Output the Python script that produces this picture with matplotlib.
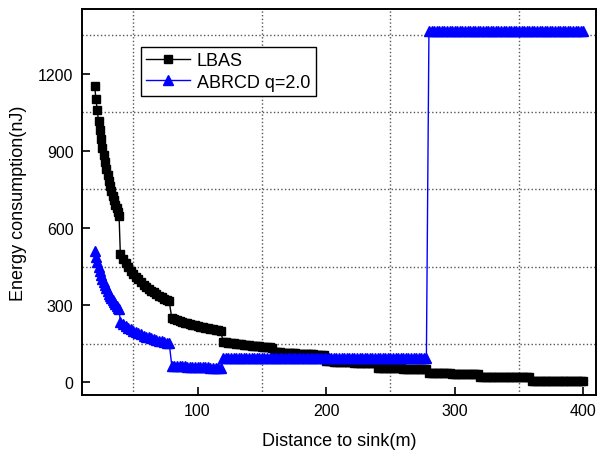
import matplotlib
matplotlib.use("Agg")
import matplotlib.pyplot as plt
from matplotlib.ticker import MultipleLocator

plt.rcParams['font.family'] = ['Liberation Sans', 'DejaVu Sans']

# distance to sink (m): 1 m steps in the first hop, 2 m steps after
distance = list(range(20, 40)) + list(range(40, 401, 2))

lbas = [
    # 20..39
    1153, 1103, 1058, 1017, 980, 945, 913, 884, 856, 831,
    807, 784, 763, 744, 725, 708, 691, 676, 661, 647,
    # 40..78
    497, 479, 463, 448, 434, 422, 410, 400, 390, 380,
    372, 364, 356, 349, 342, 336, 330, 325, 319, 314,
    # 80..118
    249, 245, 241, 238, 235, 232, 229, 226, 223, 221,
    218, 216, 213, 211, 209, 207, 205, 203, 201, 199,
    # 120..158
    157, 155, 154, 152, 151, 150, 148, 147, 146, 145,
    143, 142, 141, 140, 139, 138, 137, 136, 135, 134,
    # 160..198
    118, 117, 116, 115, 115, 114, 113, 113, 112, 111,
    111, 110, 109, 109, 108, 108, 107, 106, 106, 105,
    # 200..238
    82, 81, 81, 80, 80, 79, 79, 78, 78, 77,
    77, 76, 76, 75, 75, 75, 74, 74, 73, 73,
    # 240..278
    55, 55, 55, 54, 54, 54, 53, 53, 53, 53,
    52, 52, 52, 52, 51, 51, 51, 51, 50, 50,
    # 280..318
    35, 35, 35, 35, 34, 34, 34, 34, 34, 33,
    33, 33, 33, 33, 33, 32, 32, 32, 32, 32,
    # 320..358
    21, 21, 21, 21, 21, 21, 21, 20, 20, 20,
    20, 20, 20, 20, 19, 19, 19, 19, 19, 19,
    # 360..400
    6, 6, 6, 6, 6, 6, 6, 5, 5, 5,
    5, 5, 5, 5, 4, 4, 4, 4, 4, 4, 4,
]

abrcd = [
    # 20..39
    510, 488, 468, 449, 433, 417, 403, 390, 377, 366,
    355, 345, 336, 327, 319, 311, 304, 297, 290, 284,
    # 40..78
    234, 226, 219, 212, 206, 200, 195, 190, 186, 181,
    177, 174, 170, 167, 164, 161, 159, 156, 154, 151,
    # 80..118
    64, 63, 62, 62, 61, 61, 60, 60, 59, 59,
    58, 58, 57, 57, 57, 56, 56, 55, 55, 54,
    # 120..278
    92, 92, 92, 92, 92, 92, 92, 92, 92, 92,
    92, 92, 92, 92, 92, 92, 92, 92, 92, 92,
    92, 92, 92, 92, 92, 92, 92, 92, 92, 92,
    92, 92, 92, 92, 92, 92, 92, 92, 92, 92,
    92, 92, 92, 92, 92, 92, 92, 92, 92, 92,
    92, 92, 92, 92, 92, 92, 92, 92, 92, 92,
    92, 92, 92, 92, 92, 92, 92, 92, 92, 92,
    92, 92, 92, 92, 92, 92, 92, 92, 92, 92,
    # 280..400
    1368, 1368, 1368, 1368, 1368, 1368, 1368, 1368, 1368, 1368,
    1368, 1368, 1368, 1368, 1368, 1368, 1368, 1368, 1368, 1368,
    1368, 1368, 1368, 1368, 1368, 1368, 1368, 1368, 1368, 1368,
    1368, 1368, 1368, 1368, 1368, 1368, 1368, 1368, 1368, 1368,
    1368, 1368, 1368, 1368, 1368, 1368, 1368, 1368, 1368, 1368,
    1368, 1368, 1368, 1368, 1368, 1368, 1368, 1368, 1368, 1368,
    1368,
]

fig = plt.figure(figsize=(5.97, 4.52), dpi=100)
ax = fig.add_axes([0.137, 0.124, 0.8615, 0.854])

ax.plot(distance, lbas, 's-', color='black', lw=1, markersize=6, label='LBAS')
ax.plot(distance, abrcd, '^-', color='blue', lw=1, markersize=6.5, label='ABRCD q=2.0')

ax.set_xlim(10, 410)
ax.set_ylim(-50, 1453)
ax.xaxis.set_major_locator(MultipleLocator(100))
ax.xaxis.set_minor_locator(MultipleLocator(50))
ax.yaxis.set_major_locator(MultipleLocator(300))
ax.yaxis.set_minor_locator(MultipleLocator(150))
ax.tick_params(which='major', direction='in', length=6, width=1.2, labelsize=11.5, pad=6)
ax.tick_params(which='minor', length=0)
ax.grid(which='minor', linestyle=':', color='#555555', lw=1)
for s in ax.spines.values():
    s.set_linewidth(1.4)

ax.set_xlabel('Distance to sink(m)', fontsize=13, labelpad=10)
ax.set_ylabel('Energy consumption(nJ)', fontsize=13, labelpad=8)

leg = ax.legend(loc='upper left', bbox_to_anchor=(0.115, 0.902), borderaxespad=0,
                fontsize=13, frameon=True, fancybox=False, framealpha=1,
                edgecolor='black', handlelength=2.4, labelspacing=0.25,
                borderpad=0.3, handletextpad=0.4)
leg.get_frame().set_linewidth(1)

fig.savefig('out.png', dpi=100)
